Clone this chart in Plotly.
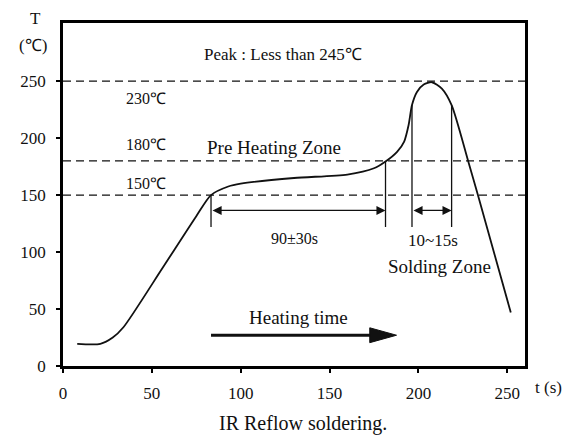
import plotly.graph_objects as go

# ---- data ----
profile_t = [8, 21, 28, 34, 56, 75, 83.3, 93, 100, 130, 160, 175, 181.5, 188, 192, 194.5, 196.4, 199.2, 203, 207.6, 213.2, 218.7, 228, 233.5, 252]
profile_T = [19.5, 19.5, 25, 34, 86, 131.5, 150, 157.5, 160, 165, 168, 173.5, 179.5, 188, 197, 211.5, 229, 240.5, 247, 249, 243.5, 229, 180, 150, 47]

ref_levels = [250, 180, 150]                 # dashed reference temperatures
level_labels = ["230℃", "180℃", "150℃"]
level_label_T = [234.7, 194, 160.5]

zone_t = [83.3, 181.5, 196.4, 218.7]        # zone boundaries (s)
zone_top = [150, 180, 229, 229]              # where boundary meets curve
zone_bottom = 122

preheat_span = [83.3, 181.5]
solder_span = [196.4, 218.7]
span_T = 136.5

heating_span = [83.3, 187.7]
heating_T = 27

x_ticks = [0, 50, 100, 150, 200, 250]
y_ticks = [0, 50, 100, 150, 200, 250]
x_range = [0, 260]
y_range = [0, 301]

FONT = "Liberation Serif, Times New Roman, serif"
INK = "#111111"

OFF = 8  # page body margin
W, H = 571 - OFF, 440 - OFF
ML, MR, MT, MB = 59 - OFF, 46, 20 - OFF, 74
pw, ph = W - ML - MR, H - MT - MB
ux = (x_range[1] - x_range[0]) / pw   # data per px
uy = (y_range[1] - y_range[0]) / ph

fig = go.Figure()

fig.add_trace(go.Scatter(
    x=profile_t, y=profile_T, mode="lines",
    line=dict(color=INK, width=1.8, shape="spline", smoothing=0.7),
    hoverinfo="skip", showlegend=False))

shapes = []
for lv in ref_levels:
    shapes.append(dict(type="line", xref="paper", x0=0, x1=1, yref="y", y0=lv, y1=lv,
                       line=dict(color=INK, width=1.3, dash="8px,5px"), layer="below"))
for t, top in zip(zone_t, zone_top):
    shapes.append(dict(type="line", xref="x", yref="y", x0=t, x1=t, y0=zone_bottom, y1=top,
                       line=dict(color=INK, width=1.3)))

# heating time arrow: shaft + elongated head
head_len, head_half = 27, 7.5
shapes.append(dict(type="line", xref="x", yref="y",
                   x0=heating_span[0], x1=heating_span[1] - head_len * ux * 0.8,
                   y0=heating_T, y1=heating_T, line=dict(color=INK, width=3)))
tx = heating_span[1]
path = (f"M {tx - head_len*ux},{heating_T + head_half*uy} "
        f"L {tx},{heating_T} L {tx - head_len*ux},{heating_T - head_half*uy} Z")
shapes.append(dict(type="path", xref="x", yref="y", path=path,
                   fillcolor=INK, line=dict(color=INK, width=1)))

annotations = []
def txt(x, y, s, size=16, xref="x", yref="y", xanchor="center"):
    annotations.append(dict(x=x, y=y, xref=xref, yref=yref, text=s, showarrow=False,
                            xanchor=xanchor, yanchor="middle",
                            font=dict(family=FONT, size=size, color=INK)))

for lab, ty in zip(level_labels, level_label_T):
    txt(46.5, ty, lab, size=16)
txt(124, 273, "Peak : Less than 245℃", size=17)
txt(119, 192, "Pre Heating Zone", size=19)
txt(130.5, 112, "90±30s", size=16)
txt(208.3, 110, "10~15s", size=17)
txt(211.8, 87, "Solding Zone", size=19)
txt(132.8, 43, "Heating time", size=19)

# double arrows
for span in (preheat_span, solder_span):
    annotations.append(dict(x=span[1], y=span_T, ax=span[0], ay=span_T,
                            xref="x", yref="y", axref="x", ayref="y",
                            text="", showarrow=True, arrowhead=2, arrowside="end+start",
                            arrowsize=1.4, arrowwidth=1.3, arrowcolor=INK,
                            standoff=0, startstandoff=0))

# axis titles / caption in paper coords (reference pixel positions)
def px2paper(px, py):
    return (px - OFF - ML) / pw, (H - MB - (py - OFF)) / ph
for s, (px, py), sz in [("T", (31, 15), 17), ("(℃)", (29, 43), 17), ("t (s)", (549, 388), 17),
                        ("IR Reflow soldering.", (301, 424), 20)]:
    xp, yp = px2paper(px, py)
    txt(xp, yp, s, size=sz, xref="paper", yref="paper")

axis_common = dict(showline=True, linecolor="black", linewidth=2.5, mirror=True,
                   showgrid=False, zeroline=False, ticks="outside", ticklen=4,
                   tickwidth=2, tickcolor="black",
                   tickfont=dict(family=FONT, size=17, color=INK))

fig.update_layout(
    width=W, height=H, margin=dict(l=ML, r=MR, t=MT, b=MB),
    paper_bgcolor="white", plot_bgcolor="white",
    xaxis=dict(range=x_range, tickvals=x_ticks, ticklabelstandoff=6, **axis_common),
    yaxis=dict(range=y_range, tickvals=y_ticks, ticklabelstandoff=7, **axis_common),
    shapes=shapes, annotations=annotations, showlegend=False)

fig.write_html("out.html")
